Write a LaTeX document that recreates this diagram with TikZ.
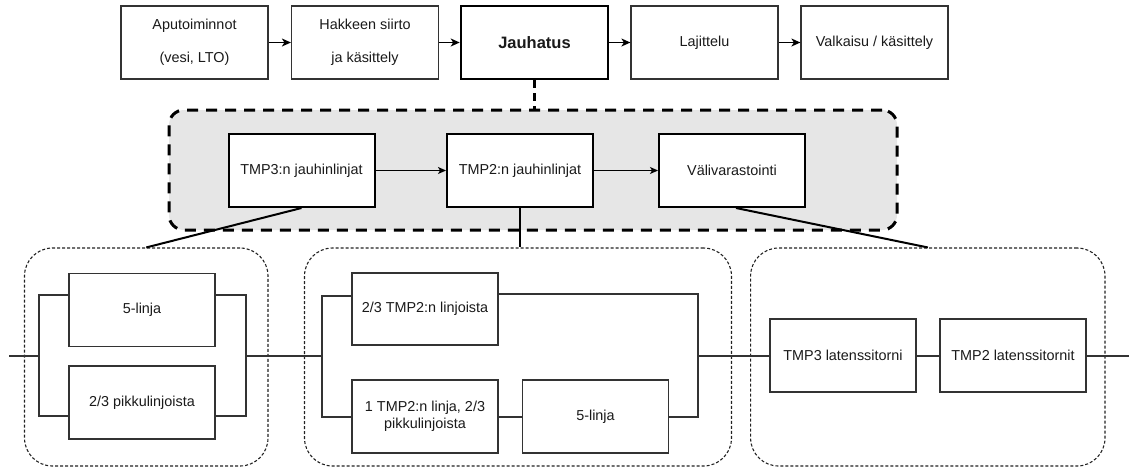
\documentclass[tikz,border=0pt]{standalone}
\usepackage{fontspec}
\setmainfont{Liberation Sans}
\usetikzlibrary{arrows.meta}
\definecolor{boxline}{HTML}{333333}
\definecolor{wirecol}{HTML}{333333}
\definecolor{framecol}{HTML}{222222}
\definecolor{panelfill}{HTML}{E6E6E6}
\definecolor{txt}{HTML}{1A1A1A}

\begin{document}
\begin{tikzpicture}[x=1pt,y=-1pt,
  stage/.style={draw=boxline, line width=1.2pt, fill=white, minimum width=147pt,
    minimum height=73pt, inner sep=0pt, align=center, text=txt,
    font=\fontsize{14.4}{33}\selectfont},
  mainstage/.style={stage, draw=black, line width=2.6pt, font=\bfseries\fontsize{16.5}{20}\selectfont},
  mill/.style={draw=black, line width=2pt, fill=white, minimum width=146pt,
    minimum height=73pt, inner sep=0pt, align=center, text=txt,
    font=\fontsize{14.4}{17}\selectfont},
  unit/.style={draw=boxline, line width=1.2pt, fill=white, minimum width=146pt,
    minimum height=73pt, inner sep=0pt, align=center, text=txt,
    font=\fontsize{14.4}{17}\selectfont},
  panel/.style={draw=black, line width=3pt, dash pattern=on 11pt off 8pt,
    fill=panelfill, rounded corners=15pt, inner sep=0pt},
  group/.style={draw=framecol, line width=1.1pt, dash pattern=on 3pt off 2pt,
    rounded corners=28pt, inner sep=0pt},
  flow/.style={draw=black, line width=1.3pt, -{Stealth[length=9pt,width=8pt,inset=2.5pt]}},
  thinflow/.style={draw=black, line width=1pt, -{Stealth[length=8pt,width=7pt,inset=2pt]}},
  link/.style={draw=black, line width=2pt},
  wire/.style={draw=wirecol, line width=1.2pt},
]
\useasboundingbox (0,0) rectangle (1130,467);

% top process chain
\node[stage] (apu) at (194.5,42.5) {Aputoiminnot\\(vesi, LTO)};
\node[stage] (hak) at (365,42.5) {Hakkeen siirto\\ja käsittely};
\node[mainstage] (jau) at (534.5,42.5) {Jauhatus};
\node[stage] (laj) at (704.5,42.5) {Lajittelu};
\node[stage] (val) at (874.5,42.5) {Valkaisu / käsittely};
\draw[flow] (apu) -- (hak);
\draw[flow] (hak) -- (jau);
\draw[flow] (jau) -- (laj);
\draw[flow] (laj) -- (val);

% grinding detail panel
\node[panel, minimum width=728pt, minimum height=120pt] (pan) at (533,170) {};
\draw[black, line width=2.5pt, dash pattern=on 8pt off 5pt] (jau.south) -- (jau.south |- pan.north);
\node[mill] (t3) at (301.5,170.5) {TMP3:n jauhinlinjat};
\node[mill] (t2) at (520,170.5) {TMP2:n jauhinlinjat};
\node[mill] (vv) at (732,170.5) {Välivarastointi};
\draw[thinflow] (t3) -- (t2);
\draw[thinflow] (t2) -- (vv);

% reliability groups
\node[group, minimum width=243.5pt, minimum height=218pt] (g1) at (146.25,357) {};
\node[group, minimum width=427pt, minimum height=218pt] (g2) at (518,357) {};
\node[group, minimum width=354.4pt, minimum height=218pt] (g3) at (927.8,357) {};
\draw[link] (t3.south) -- (g1.north);
\draw[link] (t2.south) -- (t2.south |- g2.north);
\draw[link] ([xshift=4pt]vv.south) -- (g3.north);

% group 1: parallel lines of TMP3
\node[unit] (a5) at (142,310) {5-linja};
\node[unit] (a23) at (142,402.5) {2/3 pikkulinjoista};
% group 2: parallel lines of TMP2
\node[unit, minimum height=72pt] (b1) at (425,309) {2/3 TMP2:n linjoista};
\node[unit] (b2) at (425,416.5) {1 TMP2:n linja, 2/3\\pikkulinjoista};
\node[unit] (b3) at (595.5,416.5) {5-linja};
% group 3: latency towers in series
\node[unit] (c3) at (843,355.5) {TMP3 latenssitorni};
\node[unit] (c2) at (1013,355.5) {TMP2 latenssitornit};

\coordinate (src) at (9,356);
\coordinate (s1) at (39,356);
\coordinate (j1) at (246,356);
\coordinate (s2) at (322,356);
\coordinate (j2) at (698,356);
\coordinate (dst) at (1129,356);

\draw[wire] (src) -- (s1);
\draw[wire] (a5.west |- 0,295) -| (s1 |- 0,416) -- (a23.west |- 0,416);
\draw[wire] (a5.east |- 0,295) -| (j1 |- 0,416) -- (a23.east |- 0,416);
\draw[wire] (j1) -- (s2);
\draw[wire] (b1.west |- 0,296) -| (s2 |- 0,417) -- (b2.west |- 0,417);
\draw[wire] (b2.east |- 0,417) -- (b3.west |- 0,417);
\draw[wire] (b1.east |- 0,294) -| (j2 |- 0,417) -- (b3.east |- 0,417);
\draw[wire] (j2) -- (c3.west |- j2);
\draw[wire] (c3.east |- j2) -- (c2.west |- j2);
\draw[wire] (c2.east |- dst) -- (dst);
\end{tikzpicture}
\end{document}
